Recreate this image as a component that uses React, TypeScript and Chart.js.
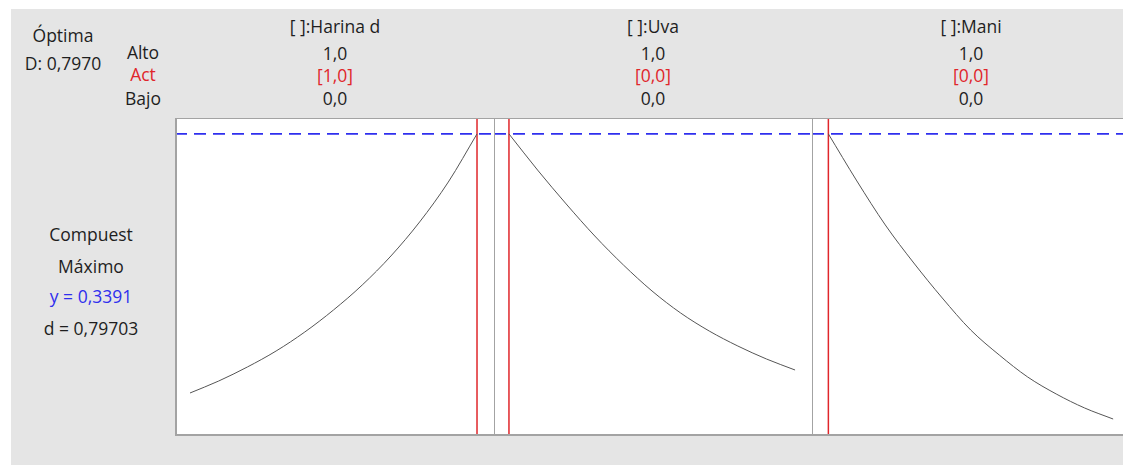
import React, { useEffect, useRef } from "react";
import { Chart, registerables } from "chart.js";

Chart.register(...registerables);

// ---------- data ----------
const factorNames = ["[ ]:Harina d", "[ ]:Uva", "[ ]:Mani"];
const highLabels = ["1,0", "1,0", "1,0"];
const lowLabels = ["0,0", "0,0", "0,0"];
const currentSettings = [1.0, 0.0, 0.0];
const factorGrid = [0, 0.1, 0.2, 0.3, 0.4, 0.5, 0.6, 0.7, 0.8, 0.9, 1.0];
const harinaCurve = [0.0473, 0.0608, 0.0766, 0.0946, 0.116, 0.1408, 0.1689, 0.2016, 0.2399, 0.2849, 0.3391];
const uvaCurve = [0.3391, 0.2984, 0.2602, 0.2241, 0.1915, 0.1622, 0.1374, 0.1171, 0.1002, 0.0856, 0.0732];
const maniCurve = [0.3391, 0.2861, 0.2365, 0.1937, 0.1543, 0.1182, 0.0901, 0.0653, 0.0462, 0.0304, 0.018];
const curves = [harinaCurve, uvaCurve, maniCurve];
const responseName = "Compuest";
const goalName = "Máximo";
const yPredicted = 0.3391;
const dIndividual = 0.79703;
const dComposite = 0.797;
const yAxisMin = 0;
const yAxisMax = 0.357;
const xAxisMin = -0.0523;
const xAxisMax = 1.0592;

const fmt = (v: number, d: number) => v.toFixed(d).replace(".", ",");

const FONT = "'Open Sans', 'Noto Sans', sans-serif";
const TEXT = "#1e1e1e";
const RED = "#e0262b";
const BLUE = "#2f2fee";
const BORDER = "#a3a3a3";

function Panel({ idx, left, width, xMin }: { idx: number; left: number; width: number; xMin: number }) {
  const ref = useRef<HTMLCanvasElement | null>(null);
  useEffect(() => {
    if (!ref.current) return;
    const curve = curves[idx];
    const setting = currentSettings[idx];
    const chart = new Chart(ref.current, {
      type: "line",
      data: {
        datasets: [
          {
            data: [
              { x: xMin, y: yPredicted },
              { x: xAxisMax, y: yPredicted },
            ],
            borderColor: BLUE,
            borderWidth: 1.6,
            borderDash: [12, 7],
            pointRadius: 0,
          },
          {
            data: factorGrid.map((x, i) => ({ x, y: curve[i] })),
            borderColor: "#555555",
            borderWidth: 1,
            pointRadius: 0,
            cubicInterpolationMode: "monotone",
          },
          {
            data: [
              { x: setting, y: yAxisMin },
              { x: setting, y: yAxisMax },
            ],
            borderColor: RED,
            borderWidth: 1.5,
            pointRadius: 0,
          },
        ],
      },
      options: {
        animation: false,
        responsive: false,
        maintainAspectRatio: false,
        layout: { padding: 0 },
        plugins: { legend: { display: false }, tooltip: { enabled: false } },
        scales: {
          x: { type: "linear", display: false, min: xMin, max: xAxisMax },
          y: { type: "linear", display: false, min: yAxisMin, max: yAxisMax },
        },
      },
    });
    return () => chart.destroy();
  }, [idx]);
  return (
    <canvas
      ref={ref}
      width={width}
      height={317}
      style={{ position: "absolute", left, top: 118, width, height: 317, display: "block" }}
    />
  );
}

function Txt({ x, y, color, children }: { x: number; y: number; color?: string; children: React.ReactNode }) {
  return (
    <div
      style={{
        position: "absolute",
        left: x,
        top: y,
        transform: "translate(-50%, -50%)",
        whiteSpace: "nowrap",
        fontFamily: FONT,
        fontSize: 17.5,
        lineHeight: "18px",
        color: color || TEXT,
      }}
    >
      {children}
    </div>
  );
}

export default function App() {
  const panelLefts = [175, 494, 812];
  const panelWidths = [319, 318, 318];
  const panelXMins = [xAxisMin, xAxisMin, -0.0575];
  const centers = [335, 653, 971];
  return (
    <div
      style={{
        position: "fixed",
        left: 0,
        top: 0,
        width: 1123,
        height: 465,
        background: "#ffffff",
        overflow: "hidden",
      }}
    >
      <div style={{ position: "absolute", left: 11, top: 9, width: 1112, height: 456, background: "#e5e5e5" }} />
      <div style={{ position: "absolute", left: 175, top: 118, width: 960, height: 317, background: "#ffffff" }} />
      <Txt x={63} y={34.5}>Óptima</Txt>
      <Txt x={63} y={62.5}>D: {fmt(dComposite, 4)}</Txt>
      <Txt x={143} y={51.5}>Alto</Txt>
      <Txt x={143} y={74} color={RED}>Act</Txt>
      <Txt x={143} y={98}>Bajo</Txt>
      {factorNames.map((n, i) => (
        <React.Fragment key={n}>
          <Txt x={centers[i]} y={25.5}>{n}</Txt>
          <Txt x={centers[i]} y={52.5}>{highLabels[i]}</Txt>
          <Txt x={centers[i]} y={75} color={RED}>[{fmt(currentSettings[i], 1)}]</Txt>
          <Txt x={centers[i]} y={98}>{lowLabels[i]}</Txt>
        </React.Fragment>
      ))}
      <Txt x={91} y={233.5}>{responseName}</Txt>
      <Txt x={91} y={265.5}>{goalName}</Txt>
      <Txt x={91} y={296} color={BLUE}>y = {fmt(yPredicted, 4)}</Txt>
      <Txt x={91} y={327.5}>d = {fmt(dIndividual, 5)}</Txt>
      {panelLefts.map((l, i) => (
        <Panel key={i} idx={i} left={l} width={panelWidths[i]} xMin={panelXMins[i]} />
      ))}
      {/* plot box borders */}
      <div style={{ position: "absolute", left: 175, top: 118, width: 960, height: 1, background: BORDER }} />
      <div style={{ position: "absolute", left: 175, top: 434, width: 960, height: 1.5, background: BORDER }} />
      <div style={{ position: "absolute", left: 175, top: 118, width: 1.5, height: 317, background: BORDER }} />
      <div style={{ position: "absolute", left: 493.5, top: 118, width: 1.5, height: 317, background: BORDER }} />
      <div style={{ position: "absolute", left: 811.5, top: 118, width: 1.5, height: 317, background: BORDER }} />
    </div>
  );
}
